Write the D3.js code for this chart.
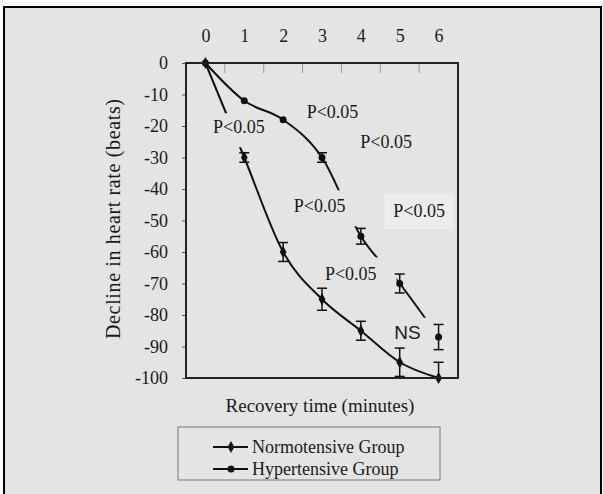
<!DOCTYPE html>
<html>
<head>
<meta charset="utf-8">
<script src="https://cdn.jsdelivr.net/npm/d3@7"></script>
<style>
  body { margin: 0; background: #fff; }
  text { font-family: "Liberation Serif", "Times New Roman", serif; fill: #1a1a1a; }
</style>
</head>
<body>
<script>
// Size
var w = 603;
var h = 494;

// Data
var minutes = [0, 1, 2, 3, 4, 5, 6];
var normotensive = [0, -30, -60, -75, -85, -95, -100];
var normotensiveErr = [0, 1.5, 3, 3.5, 3, 4.5, 5];
var hypertensive = [0, -12, -18, -30, -55, -70, -87];
var hypertensiveErr = [0, 0, 0, 1.5, 2.5, 3, 4];
var yTicks = [0, -10, -20, -30, -40, -50, -60, -70, -80, -90, -100];
var seriesNames = ["Normotensive Group", "Hypertensive Group"];

// Significance notes (placed in data units)
var noteText = ["P<0.05", "P<0.05", "P<0.05", "P<0.05", "P<0.05", "P<0.05", "NS"];
var noteX = [0.86, 3.27, 4.65, 2.94, 5.5, 3.74, 5.2];
var noteY = [-20.3, -15.6, -25, -45.4, -47, -67, -85.4];
// padding of each note's background box: left, right, top, bottom
var notePad = [[9, 0, 4, 10], [5, 5, 5, 5], [5, 5, 5, 5], [5, 12, 6, 10],
               [9, 9, 8, 8], [5, 20, 7, 6], [5, 17, 4, 5]];

var svg = d3.select("body")
            .append("svg")
            .attr("width", w)
            .attr("height", h);

// page background and outer frame
svg.append("rect")
   .attr("x", 4).attr("y", 7)
   .attr("width", 597).attr("height", 500)
   .attr("fill", "#e4e4e4")
   .attr("stroke", "#000")
   .attr("stroke-width", 2);

var x = d3.scaleLinear().domain([-0.5, 6.5]).range([186, 458]);
var y = d3.scaleLinear().domain([0, -100]).range([63, 378]);

svg.append("clipPath")
   .attr("id", "plotclip")
   .append("rect")
   .attr("x", 186).attr("y", 50)
   .attr("width", 272).attr("height", 328);

// top axis (labels only, tick marks drawn inside the box)
var topAxis = svg.append("g")
   .attr("transform", "translate(0,63)")
   .call(d3.axisTop(x).tickValues(minutes).tickSize(0).tickPadding(21).tickFormat(d3.format("d")));
topAxis.select(".domain").remove();
topAxis.selectAll("text")
   .style("font-family", "Liberation Serif, serif")
   .attr("font-size", "18px")
   .attr("fill", "#1a1a1a");

svg.selectAll("line.minor")
   .data(minutes.slice(0, 6))
   .enter()
   .append("line")
   .attr("class", "minor")
   .attr("x1", function(d) { return x(d + 0.5); })
   .attr("x2", function(d) { return x(d + 0.5); })
   .attr("y1", 63)
   .attr("y2", 73)
   .attr("stroke", "#9a9a9a")
   .attr("stroke-width", 1);

// left axis
var leftAxis = svg.append("g")
   .attr("transform", "translate(186,0)")
   .call(d3.axisLeft(y).tickValues(yTicks).tickSize(4).tickPadding(14).tickFormat(function(d) { return d === 0 ? "0" : "-" + Math.abs(d); }));
leftAxis.select(".domain").remove();
leftAxis.selectAll("line").attr("stroke", "#555");
leftAxis.selectAll("text")
   .style("font-family", "Liberation Serif, serif")
   .attr("font-size", "18px")
   .attr("fill", "#1a1a1a");

// lines
var line = d3.line()
   .x(function(d, i) { return x(minutes[i]); })
   .y(function(d) { return y(d); })
   .curve(d3.curveMonotoneX);

svg.append("path")
   .datum(normotensive)
   .attr("d", line)
   .attr("fill", "none")
   .attr("stroke", "#111")
   .attr("stroke-width", 2);

svg.append("path")
   .datum(hypertensive)
   .attr("d", line)
   .attr("fill", "none")
   .attr("stroke", "#111")
   .attr("stroke-width", 2);

// notes with background boxes that break the lines
var notes = svg.selectAll("g.note")
   .data(noteText)
   .enter()
   .append("g")
   .attr("class", "note");

notes.append("text")
   .attr("x", function(d, i) { return x(noteX[i]); })
   .attr("y", function(d, i) { return y(noteY[i]); })
   .attr("dy", "0.35em")
   .attr("text-anchor", "middle")
   .style("font-family", function(d) { return d === "NS" ? "Liberation Sans, Arial, sans-serif" : "Liberation Serif, serif"; })
   .attr("font-size", function(d) { return d === "NS" ? "19px" : "18px"; })
   .text(function(d) { return d; });

notes.each(function(d, i) {
  var g = d3.select(this);
  var b = g.select("text").node().getBBox();
  var p = notePad[i];
  g.insert("rect", "text")
   .attr("x", b.x - p[0])
   .attr("y", b.y - p[2])
   .attr("width", b.width + p[0] + p[1])
   .attr("height", b.height + p[2] + p[3])
   .attr("fill", i === 4 ? "#ececec" : "#e4e4e4");
});

// error bars (clipped to the plot box)
function errorBars(values, errs, cls) {
  var g = svg.append("g").attr("class", cls).attr("clip-path", "url(#plotclip)");
  var pts = values.map(function(v, i) { return { m: minutes[i], v: v, e: errs[i] }; })
                  .filter(function(d) { return d.e > 0; });
  g.selectAll("line.stem").data(pts).enter().append("line")
   .attr("x1", function(d) { return x(d.m); })
   .attr("x2", function(d) { return x(d.m); })
   .attr("y1", function(d) { return y(d.v + d.e); })
   .attr("y2", function(d) { return y(d.v - d.e); })
   .attr("stroke", "#111").attr("stroke-width", 1.5);
  [1, -1].forEach(function(s) {
    g.selectAll("line.cap" + s).data(pts).enter().append("line")
     .attr("x1", function(d) { return x(d.m) - 5; })
     .attr("x2", function(d) { return x(d.m) + 5; })
     .attr("y1", function(d) { return y(d.v + s * d.e); })
     .attr("y2", function(d) { return y(d.v + s * d.e); })
     .attr("stroke", "#111").attr("stroke-width", 1.5);
  });
}
errorBars(normotensive, normotensiveErr, "errN");
errorBars(hypertensive, hypertensiveErr, "errH");

// markers
var diamond = d3.symbol().type(d3.symbolDiamond).size(40);
svg.selectAll("path.markN")
   .data(normotensive)
   .enter()
   .append("path")
   .attr("class", "markN")
   .attr("d", diamond)
   .attr("transform", function(d, i) { return "translate(" + x(minutes[i]) + "," + y(d) + ")"; })
   .attr("fill", "#111");

svg.selectAll("circle.markH")
   .data(hypertensive)
   .enter()
   .append("circle")
   .attr("class", "markH")
   .attr("cx", function(d, i) { return x(minutes[i]); })
   .attr("cy", function(d) { return y(d); })
   .attr("r", 3.5)
   .attr("fill", "#111");

// plot box
svg.append("rect")
   .attr("x", 186).attr("y", 63)
   .attr("width", 272).attr("height", 315)
   .attr("fill", "none")
   .attr("stroke", "#222")
   .attr("stroke-width", 2);

// axis titles
svg.append("text")
   .attr("x", 320)
   .attr("y", 412)
   .attr("text-anchor", "middle")
   .attr("font-size", "19px")
   .text("Recovery time (minutes)");

svg.append("text")
   .attr("transform", "translate(120,219) rotate(-90)")
   .attr("text-anchor", "middle")
   .attr("font-size", "20px")
   .attr("textLength", 240)
   .attr("lengthAdjust", "spacing")
   .text("Decline in heart rate (beats)");

// legend
var legend = svg.append("g");
legend.append("rect")
   .attr("x", 178).attr("y", 427)
   .attr("width", 262).attr("height", 53)
   .attr("fill", "none")
   .attr("stroke", "#777")
   .attr("stroke-width", 1);

var ly = d3.scalePoint().domain(seriesNames).range([447, 469]);

legend.selectAll("line.key")
   .data(seriesNames)
   .enter()
   .append("line")
   .attr("class", "key")
   .attr("x1", 213).attr("x2", 248)
   .attr("y1", function(d) { return ly(d); })
   .attr("y2", function(d) { return ly(d); })
   .attr("stroke", "#111")
   .attr("stroke-width", 2);

legend.append("path")
   .attr("d", diamond)
   .attr("transform", "translate(231," + ly(seriesNames[0]) + ")")
   .attr("fill", "#111");
legend.append("circle")
   .attr("cx", 231).attr("cy", ly(seriesNames[1]))
   .attr("r", 3.5)
   .attr("fill", "#111");

legend.selectAll("text.key")
   .data(seriesNames)
   .enter()
   .append("text")
   .attr("class", "key")
   .attr("x", 252)
   .attr("y", function(d) { return ly(d); })
   .attr("dy", "0.35em")
   .attr("font-size", "18px")
   .text(function(d) { return d; });
</script>
</body>
</html>
